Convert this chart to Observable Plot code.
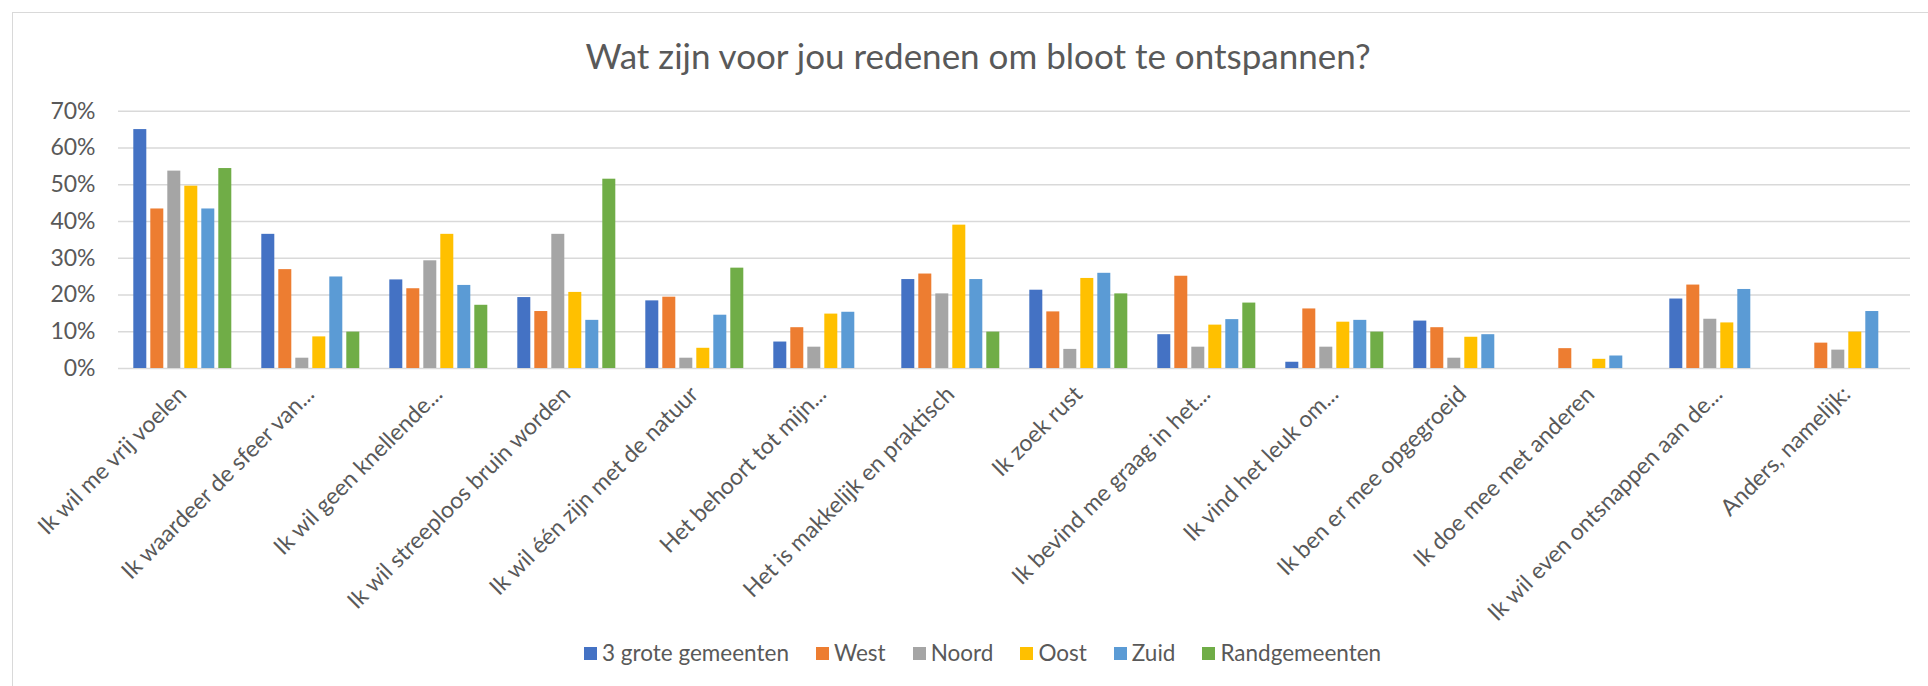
<!DOCTYPE html>
<html>
<head>
<meta charset="utf-8">
<script src="https://cdn.jsdelivr.net/npm/d3@7"></script>
<script src="https://cdn.jsdelivr.net/npm/@observablehq/plot@0.6"></script>
<style>
  html, body { margin: 0; padding: 0; background: #fff; overflow: hidden; }
  #wrap { position: relative; width: 1928px; height: 686px; font-family: Lato, "Open Sans", sans-serif; color: #595959; }
  #frame { position: absolute; left: 12px; top: 12px; width: 1960px; height: 720px; border-left: 1.5px solid #d9d9d9; border-top: 1.5px solid #d9d9d9; }
  #title { position: absolute; left: 978px; top: 38px; transform: translateX(-50%); white-space: nowrap; font-size: 35px; line-height: 35px; color: #595959; }
  #chart { position: absolute; left: 0; top: 90px; }
  #legend { position: absolute; left: 584px; top: 640px; display: flex; align-items: center; font-size: 22.5px; line-height: 26px; white-space: nowrap; }
  #legend .item { display: flex; align-items: center; margin-right: 27px; }
  #legend .sw { width: 13px; height: 13px; margin-right: 5px; }
</style>
</head>
<body>
<div id="wrap">
  <div id="frame"></div>
  <div id="title">Wat zijn voor jou redenen om bloot te ontspannen?</div>
  <div id="chart"></div>
  <div id="legend"></div>
</div>
<script>
const categories = [
  "Ik wil me vrij voelen",
  "Ik waardeer de sfeer van...",
  "Ik wil geen knellende...",
  "Ik wil streeploos bruin worden",
  "Ik wil één zijn met de natuur",
  "Het behoort tot mijn...",
  "Het is makkelijk en praktisch",
  "Ik zoek rust",
  "Ik bevind me graag in het...",
  "Ik vind het leuk om...",
  "Ik ben er mee opgegroeid",
  "Ik doe mee met anderen",
  "Ik wil even ontsnappen aan de...",
  "Anders, namelijk:"
];
const seriesNames = ["3 grote gemeenten", "West", "Noord", "Oost", "Zuid", "Randgemeenten"];
const seriesColors = ["#4472C4", "#ED7D31", "#A5A5A5", "#FFC000", "#5B9BD5", "#70AD47"];

// values in percent, one per category (null = no bar)
const grote3 = [65.0, 36.5, 24.1, 19.3, 18.4, 7.2, 24.2, 21.3, 9.2, 1.7, 12.9, null, 18.9, null];
const west   = [43.4, 26.9, 21.7, 15.5, 19.4, 11.1, 25.7, 15.4, 25.1, 16.2, 11.1, 5.4, 22.7, 6.9];
const noord  = [53.7, 2.8, 29.3, 36.5, 2.8, 5.8, 20.3, 5.2, 5.8, 5.8, 2.8, null, 13.4, 5.0];
const oost   = [49.6, 8.6, 36.5, 20.7, 5.5, 14.8, 39.0, 24.5, 11.8, 12.6, 8.5, 2.5, 12.4, 9.9];
const zuid   = [43.4, 24.9, 22.6, 13.1, 14.5, 15.3, 24.2, 25.9, 13.3, 13.1, 9.2, 3.4, 21.5, 15.5];
const rand   = [54.4, 9.9, 17.2, 51.5, 27.3, null, 9.9, 20.3, 17.8, 9.9, null, null, null, null];

const yTicks = [0, 0.1, 0.2, 0.3, 0.4, 0.5, 0.6, 0.7];

const seriesValues = [grote3, west, noord, oost, zuid, rand];
const rows = [];
categories.forEach((c, i) => {
  seriesNames.forEach((s, j) => {
    const v = seriesValues[j][i];
    if (v != null) rows.push({category: c, series: s, value: v / 100});
  });
});

const chart = Plot.plot({
  width: 1928,
  height: 478,
  marginTop: 20.7,
  marginLeft: 111.7,
  marginRight: 12,
  marginBottom: 200,
  style: {fontFamily: "Lato, 'Open Sans', sans-serif", fontSize: "23px", color: "#595959", background: "transparent", overflow: "visible"},
  fx: {domain: categories, paddingInner: 0, paddingOuter: 0, label: null},
  x: {domain: seriesNames, paddingInner: 0.23, paddingOuter: 0.834, axis: null},
  y: {domain: [0, 0.7], label: null},
  color: {domain: seriesNames, range: seriesColors},
  marks: [
    Plot.gridY(yTicks, {stroke: "#d9d9d9", strokeOpacity: 1, strokeWidth: 1.5}),
    Plot.barY(rows, {fx: "category", x: "series", y: "value", fill: "series"}),
    Plot.axisY(yTicks, {tickFormat: d3.format(".0%"), tickSize: 0, tickPadding: 23, fontSize: 23, label: null}),
    Plot.axisFx({anchor: "bottom", tickRotate: -45, tickSize: 0, tickPadding: 22, fontSize: 23, label: null})
  ]
});
document.getElementById("chart").appendChild(chart);

const legend = document.getElementById("legend");
seriesNames.forEach((s, i) => {
  const item = document.createElement("div");
  item.className = "item";
  const sw = document.createElement("span");
  sw.className = "sw";
  sw.style.background = seriesColors[i];
  const t = document.createElement("span");
  t.textContent = s;
  item.appendChild(sw);
  item.appendChild(t);
  legend.appendChild(item);
});
</script>
</body>
</html>
